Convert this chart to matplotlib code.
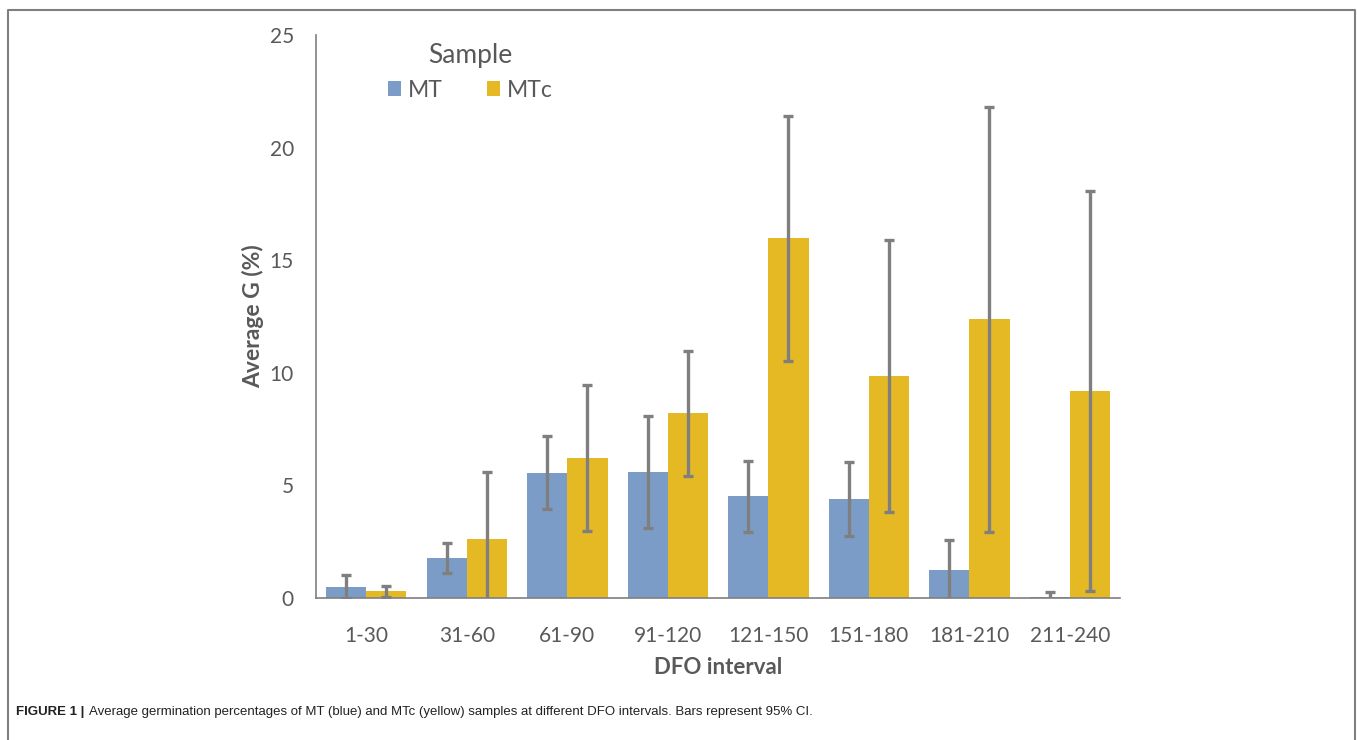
import numpy as np
import matplotlib.pyplot as plt
from matplotlib.lines import Line2D

# Datos
intervals = ['1-30', '31-60', '61-90', '91-120', '121-150', '151-180', '181-210', '211-240']
mt_mean = [0.50, 1.79, 5.57, 5.60, 4.52, 4.40, 1.25, 0.05]
mtc_mean = [0.30, 2.62, 6.23, 8.20, 15.97, 9.86, 12.37, 9.20]
mt_ci = [0.52, 0.67, 1.64, 2.48, 1.58, 1.64, 1.34, 0.20]
mtc_ci = [0.25, 2.99, 3.25, 2.78, 5.44, 6.03, 9.43, 8.87]

blue = '#7b9cc6'
yellow = '#e5b924'
grey = '#7f7f7f'
txt = '#595959'

plt.rcParams['font.family'] = ['Lato', 'DejaVu Sans']

fig = plt.figure(figsize=(13.57, 7.40), dpi=100)
ax = fig.add_axes([0.2329, 0.1919, 0.5925, 0.7608])

x = np.arange(len(intervals))
w = 0.4
err_kw = dict(ecolor=grey, elinewidth=2.4, capsize=3.5, capthick=2.4)
ax.bar(x - w / 2, mt_mean, w, color=blue, label='MT', yerr=mt_ci, error_kw=err_kw)
ax.bar(x + w / 2, mtc_mean, w, color=yellow, label='MTc', yerr=mtc_ci, error_kw=err_kw)

ax.set_xlim(-0.5, len(intervals) - 0.5)
ax.set_ylim(0, 25)
ax.set_yticks([0, 5, 10, 15, 20, 25])
ax.set_xticks(x)
ax.set_xticklabels(intervals)
ax.tick_params(length=0, labelsize=15, labelcolor=txt)
ax.tick_params(axis='x', pad=20)
ax.tick_params(axis='y', pad=16)

for s in ['top', 'right']:
    ax.spines[s].set_visible(False)
for s in ['left', 'bottom']:
    ax.spines[s].set_color(grey)
    ax.spines[s].set_linewidth(1.2)

ax.set_ylabel('Average G (%)', fontsize=16.5, fontweight='bold', color=txt, labelpad=4)
ax.set_xlabel('DFO interval', fontsize=16, fontweight='bold', color=txt, labelpad=8)

leg = ax.legend(title='Sample', ncol=2, loc='upper left', bbox_to_anchor=(0.069, 1.014),
                frameon=False, fontsize=16.5, title_fontsize=19, borderpad=0.2,
                handlelength=0.6, handleheight=0.6, handletextpad=0.3, columnspacing=1.9)
leg.get_title().set_color(txt)
for t in leg.get_texts():
    t.set_color(txt)

# Marco exterior (sin línea inferior)
px = lambda v: v / 1357
py = lambda v: 1 - v / 740
fig.add_artist(Line2D([px(8), px(8), px(1355), px(1355)], [0, py(10), py(10), 0],
                      transform=fig.transFigure, color=grey, linewidth=1.5))

# Pie de figura
cap_font = ['Liberation Sans', 'DejaVu Sans']
t1 = fig.text(px(16), py(712), 'FIGURE 1 |', fontsize=9.5, fontweight='bold',
              family=cap_font, color='#222222', va='center')
fig.canvas.draw()
bb = t1.get_window_extent()
fig.text((bb.x1 + 5) / fig.bbox.width, py(712),
         'Average germination percentages of MT (blue) and MTc (yellow) samples '
         'at different DFO intervals. Bars represent 95% CI.', fontsize=9.5,
         family=cap_font, color='#222222', va='center')

fig.savefig('out.png', dpi=100)
